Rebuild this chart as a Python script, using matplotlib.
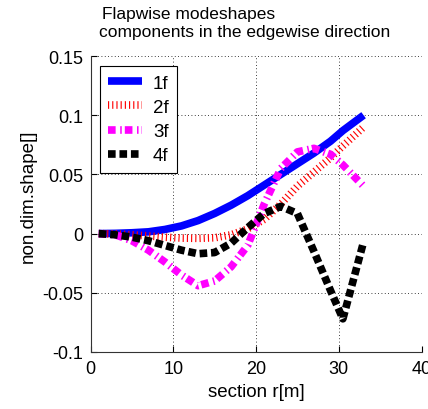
import matplotlib
matplotlib.use("Agg")
import matplotlib.pyplot as plt

plt.rcParams['font.family'] = ['Liberation Sans', 'DejaVu Sans']

# radial sections [m]
r = [1, 3, 5, 7, 9, 11, 13, 15, 17, 19, 21, 23, 25, 27, 29, 30.5, 33]

# flapwise mode shapes, edgewise components
mode_1f = [0, 0.0002, 0.0007, 0.0015, 0.0035, 0.0065, 0.011, 0.017, 0.024,
           0.032, 0.041, 0.050, 0.059, 0.068, 0.078, 0.087, 0.100]
mode_2f = [0, -0.0003, -0.001, -0.002, -0.003, -0.0038, -0.004, -0.0035,
           -0.001, 0.004, 0.012, 0.025, 0.040, 0.052, 0.064, 0.074, 0.090]
mode_3f = [0, -0.001, -0.006, -0.014, -0.024, -0.035, -0.044, -0.040,
           -0.028, -0.010, 0.025, 0.055, 0.069, 0.072, 0.067, 0.058, 0.040]
mode_4f = [0, -0.001, -0.003, -0.006, -0.010, -0.014, -0.017, -0.016,
           -0.008, 0.005, 0.017, 0.023, 0.017, -0.015, -0.048, -0.072, -0.007]

labels = ['1f', '2f', '3f', '4f']

fig = plt.figure(figsize=(4.28, 4.10), dpi=100)
ax = fig.add_axes([90.5 / 428, 57 / 410, 331 / 428, 296 / 410])

lw = 5.5
ax.plot(r, mode_1f, color='#0000ff', lw=lw, solid_capstyle='butt', label=labels[0])
ax.plot(r, mode_2f, color='#ff0000', lw=lw, linestyle=(0, (0.15, 0.4)),
        dash_capstyle='butt', label=labels[1])
ax.plot(r, mode_3f, color='#ff00ff', lw=lw, linestyle=(0, (1.0, 0.6, 0.2, 0.4)),
        dash_capstyle='butt', label=labels[2])
ax.plot(r, mode_4f, color='black', lw=lw, linestyle=(0, (1.0, 0.5)),
        dash_capstyle='butt', label=labels[3])

ax.set_xlim(0, 40)
ax.set_ylim(-0.1, 0.15)
ax.set_xticks([0, 10, 20, 30, 40])
ax.set_yticks([-0.1, -0.05, 0, 0.05, 0.1, 0.15])
ax.set_xticklabels(['0', '10', '20', '30', '40'])
ax.set_yticklabels(['-0.1', '-0.05', '0', '0.05', '0.1', '0.15'])
ax.tick_params(direction='in', length=4, labelsize=13, width=0.8)
ax.tick_params(axis='x', pad=6)
ax.tick_params(axis='y', pad=5)
ax.grid(True, color='black', linestyle=(0, (1, 3)), linewidth=0.6)
ax.spines['top'].set_visible(False)
ax.spines['right'].set_visible(False)
for s in ('left', 'bottom'):
    ax.spines[s].set_linewidth(0.8)
    ax.spines[s].set_color('#333333')

ax.set_xlabel('section r[m]', fontsize=13.5, labelpad=4)
ax.set_ylabel('non.dim.shape[]', fontsize=13.5)
ax.yaxis.set_label_coords(-(90.5 - 37) / 331, 0.53)

leg = ax.legend(loc='upper left', bbox_to_anchor=(9 / 331, 1 - 10 / 296),
                borderaxespad=0, fontsize=13.5, handlelength=1.8,
                handletextpad=0.6, labelspacing=0.38, fancybox=False,
                framealpha=1, edgecolor='black', borderpad=0.45)
leg.get_frame().set_linewidth(0.8)

fig.text(102 / 428, 1 - 19 / 410, 'Flapwise modeshapes', fontsize=12.5,
         ha='left', va='baseline')
fig.text(99 / 428, 1 - 37 / 410, 'components in the edgewise direction',
         fontsize=12.5, ha='left', va='baseline')

fig.savefig('out.png', dpi=100)
